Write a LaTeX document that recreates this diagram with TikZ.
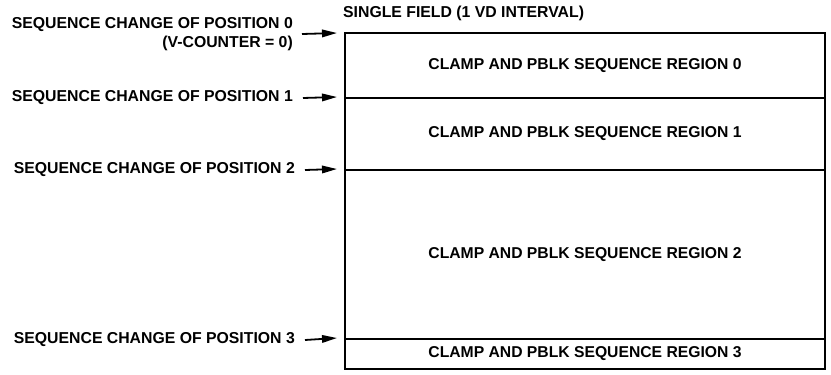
\documentclass[tikz,border=0pt]{standalone}
\usepackage{fontspec}
\setmainfont{Liberation Sans}
\usetikzlibrary{arrows.meta,calc}
\begin{document}
\begin{tikzpicture}[x=1pt,y=-1pt,
  lbl/.style={font=\fontsize{15.8}{18}\selectfont\bfseries, inner sep=0pt},
  region/.style={draw, line width=2pt, minimum width=480pt, inner sep=0pt,
    font=\fontsize{15.7}{18}\selectfont\bfseries},
  ptr/.style={line width=1.8pt, -{Triangle[length=15pt,width=7.5pt]}}]
\useasboundingbox (0,0) rectangle (831,375);
% regions
\node[region, minimum height=65pt] (r0) at (585,65.5) {CLAMP AND PBLK SEQUENCE REGION 0};
\node[region, minimum height=72pt] (r1) at (585,134) {CLAMP AND PBLK SEQUENCE REGION 1};
\node[region, minimum height=169pt] (r2) at (585,254.5) {CLAMP AND PBLK SEQUENCE REGION 2};
\node[region, minimum height=30pt] (r3) at (585,354) {CLAMP AND PBLK SEQUENCE REGION 3};
% title
\node[lbl, anchor=west] (title) at (343,13) {SINGLE FIELD (1 VD INTERVAL)};
% left labels
\node[lbl, anchor=east] (p0) at (293,25) {SEQUENCE CHANGE OF POSITION 0};
\node[lbl, anchor=east] (vc) at (293,43) {(V-COUNTER = 0)};
\node[lbl, anchor=east] (p1) at (293,98) {SEQUENCE CHANGE OF POSITION 1};
\node[lbl, anchor=east] (p2) at (295,170) {SEQUENCE CHANGE OF POSITION 2};
\node[lbl, anchor=east] (p3) at (295,340) {SEQUENCE CHANGE OF POSITION 3};
% arrows
\coordinate (a0) at (302,34);
\draw[ptr] (a0) -- ($(r0.north west)+(-7,1)$);
\draw[ptr] ($(p1.east)+(10,0)$) -- ($(r1.north west)+(-7,0)$);
\draw[ptr] ($(p2.east)+(10,0)$) -- ($(r2.north west)+(-7,0)$);
\draw[ptr] ($(p3.east)+(10,0)$) -- ($(r3.north west)+(-7,0)$);
\end{tikzpicture}
\end{document}
